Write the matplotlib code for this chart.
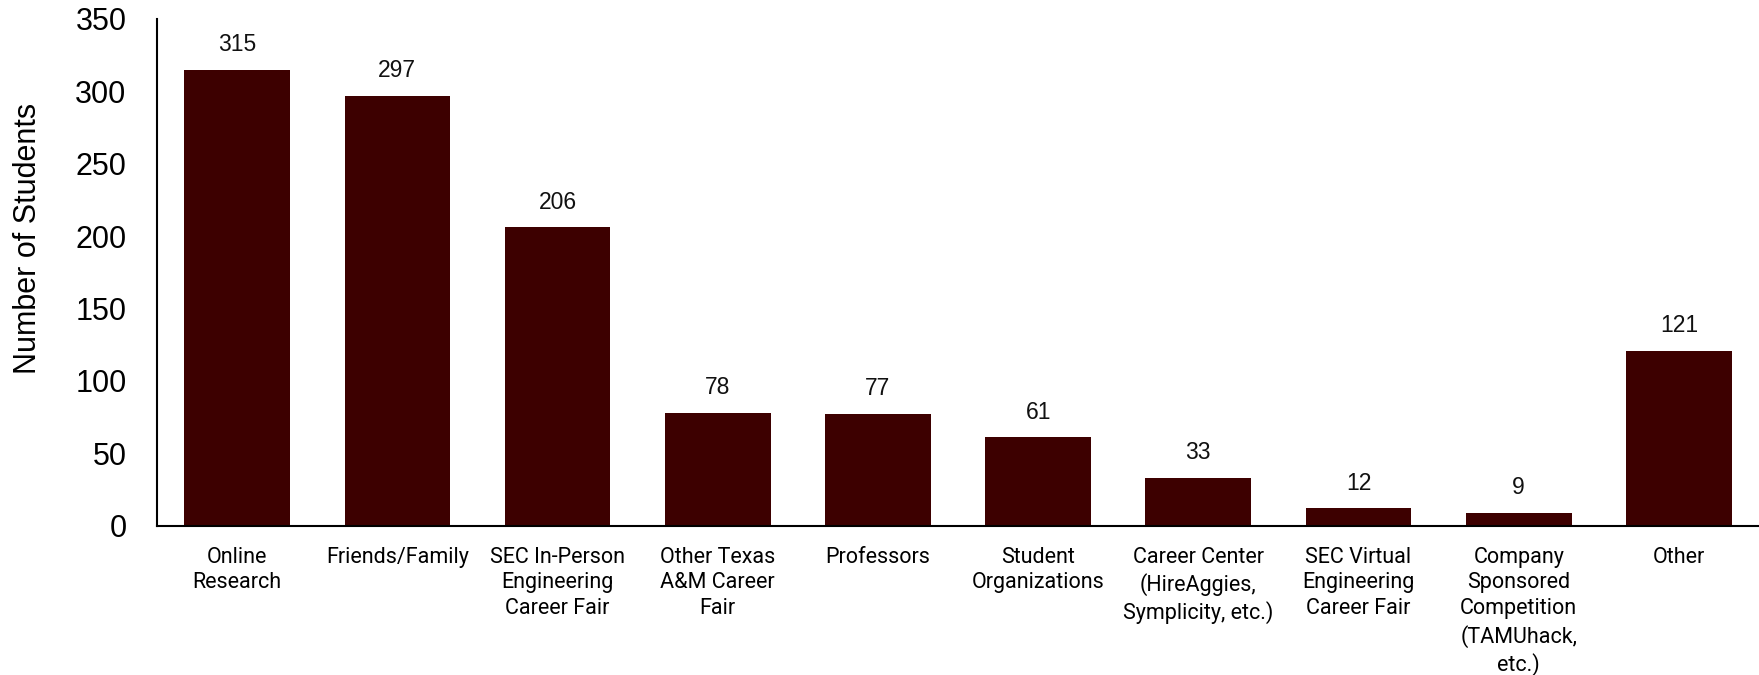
import matplotlib
matplotlib.use("Agg")
import matplotlib.pyplot as plt
from matplotlib import font_manager

categories = [
    "Online\nResearch",
    "Friends/Family",
    "SEC In-Person\nEngineering\nCareer Fair",
    "Other Texas\nA&M Career\nFair",
    "Professors",
    "Student\nOrganizations",
    "Career Center\n(HireAggies,\nSymplicity, etc.)",
    "SEC Virtual\nEngineering\nCareer Fair",
    "Company\nSponsored\nCompetition\n(TAMUhack,\netc.)",
    "Other",
]
students = [315, 297, 206, 78, 77, 61, 33, 12, 9, 121]
y_ticks = [0, 50, 100, 150, 200, 250, 300, 350]

bar_color = "#3d0000"

installed = {f.name for f in font_manager.fontManager.ttflist}
narrow = "Liberation Sans Narrow" if "Liberation Sans Narrow" in installed else "Roboto"
main_font = ["Liberation Sans", "DejaVu Sans"]

fig = plt.figure(figsize=(17.59, 6.75), dpi=100)
ax = fig.add_axes([0.0893, 0.221, 0.9107, 0.751])

x = range(len(categories))
ax.bar(x, students, width=0.66, color=bar_color, zorder=2)

for xi, v in zip(x, students):
    ax.annotate(str(v), xy=(xi, v), xytext=(0, 10), textcoords="offset points",
                ha="center", va="bottom", fontsize=16.5,
                family=main_font, color="#111111")

ax.set_xlim(-0.5, len(categories) - 0.5)
ax.set_ylim(0, 350)
ax.set_yticks(y_ticks)
ax.set_yticklabels([str(t) for t in y_ticks], fontsize=22, family=main_font)
ax.set_xticks(list(x))
ax.set_xticklabels(categories, fontsize=15.5, family=[narrow, "DejaVu Sans"],
                   linespacing=1.3, va="top")
ax.tick_params(axis="y", length=0, pad=22)
ax.tick_params(axis="x", length=0, pad=15)

ax.set_ylabel("Number of Students", fontsize=22, family=main_font)
ax.yaxis.set_label_coords(-0.071, 0.566)

for side in ("top", "right"):
    ax.spines[side].set_visible(False)
for side in ("left", "bottom"):
    ax.spines[side].set_color("black")
    ax.spines[side].set_linewidth(1.5)

fig.savefig("out.png", dpi=100)
